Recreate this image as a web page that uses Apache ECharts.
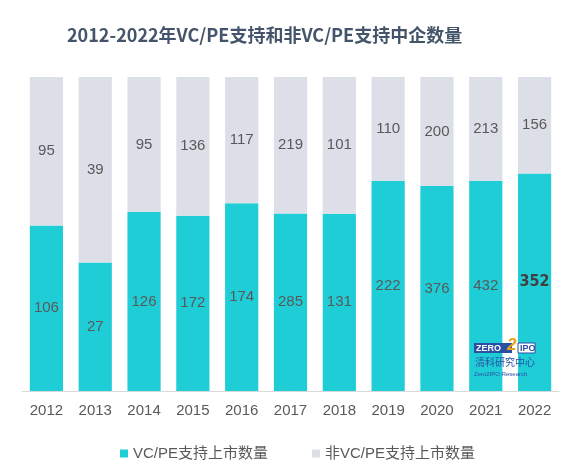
<!DOCTYPE html>
<html><head><meta charset="utf-8">
<script src="https://cdn.jsdelivr.net/npm/echarts@6/dist/echarts.min.js"></script>
<style>html,body{margin:0;padding:0;background:#fff}#c{width:576px;height:467px}</style>
</head><body><div id="c"></div>
<script>
var years = ['2012','2013','2014','2015','2016','2017','2018','2019','2020','2021','2022'];
var vcpe = [106, 27, 126, 172, 174, 285, 131, 222, 376, 432, 352];
var nonVcpe = [95, 39, 95, 136, 117, 219, 101, 110, 200, 213, 156];
var seriesNames = ['VC/PE支持上市数量', '非VC/PE支持上市数量'];

var totals = years.map(function(_, i){ return vcpe[i] + nonVcpe[i]; });
function pct(arr){ return arr.map(function(v, i){ return {value: v / totals[i] * 100, raw: v}; }); }
var vData = pct(vcpe);
vData[10].label = {fontWeight: 'bold', fontFamily: 'DejaVu Sans Condensed', fontSize: 16, color: '#404040'};

var chart = echarts.init(document.getElementById('c'), null, {renderer: 'canvas'});
var lbl = {show: true, position: 'inside', color: '#595959', fontSize: 15, fontFamily: 'Liberation Sans, Arial',
  formatter: function(p){ return p.data.raw; }};
chart.setOption({
  animation: false,
  title: {text: '2012-2022年VC/PE支持和非VC/PE支持中企数量', left: 62, top: 21,
    textStyle: {fontSize: 18, fontWeight: 'bold', color: '#44546A', fontFamily: 'Noto Sans CJK SC'}},
  grid: {left: 22, right: 17, top: 77, bottom: 76},
  legend: {left: 115, top: 441, itemWidth: 8, itemHeight: 8, itemGap: 44,
    icon: 'rect',
    textStyle: {fontSize: 15, color: '#595959', fontFamily: 'Liberation Sans, Noto Sans CJK SC'},
    data: seriesNames},
  xAxis: {type: 'category', data: years,
    axisLine: {lineStyle: {color: '#D9D9D9', width: 1}}, axisTick: {show: false},
    axisLabel: {color: '#595959', fontSize: 15, margin: 12, fontFamily: 'Liberation Sans, Arial'}},
  yAxis: {type: 'value', min: 0, max: 100, show: false},
  series: [
    {name: seriesNames[0], type: 'bar', stack: 's', barCategoryGap: '32%', data: vData,
      itemStyle: {color: '#1FCDD6'}, label: lbl},
    {name: seriesNames[1], type: 'bar', stack: 's', data: pct(nonVcpe),
      itemStyle: {color: '#DCDFE7'}, label: lbl}
  ],
  graphic: [
    {type: 'group', left: 474, top: 337, z: 100, children: [
      {type: 'rect', z: 100, shape: {x: 0, y: 0, width: 38, height: 10}, style: {fill: '#2B4FA3'}},
      {type: 'text', z: 101, x: 2, y: 1, style: {text: 'ZERO', fill: '#fff', font: 'bold 9px Liberation Sans'}},
      {type: 'text', z: 101, x: 33, y: -6, style: {text: '2', fill: '#E8A317', font: 'bold italic 17px Liberation Sans'}},
      {type: 'rect', z: 100, shape: {x: 44, y: 0, width: 17, height: 10}, style: {fill: '#fff', stroke: '#2B4FA3', lineWidth: 1}},
      {type: 'text', z: 101, x: 46, y: 1, style: {text: 'IPO', fill: '#2B4FA3', font: 'bold 9px Liberation Sans'}},
      {type: 'text', z: 101, x: 1, y: 14, style: {text: '清科研究中心', fill: '#2B4FA3', font: '10px Noto Sans CJK SC'}},
      {type: 'text', z: 101, x: 0, y: 28, style: {text: 'Zero2IPO Research', fill: '#2B4FA3', font: '6px Liberation Sans'}}
    ]}
  ]
});
</script></body></html>
